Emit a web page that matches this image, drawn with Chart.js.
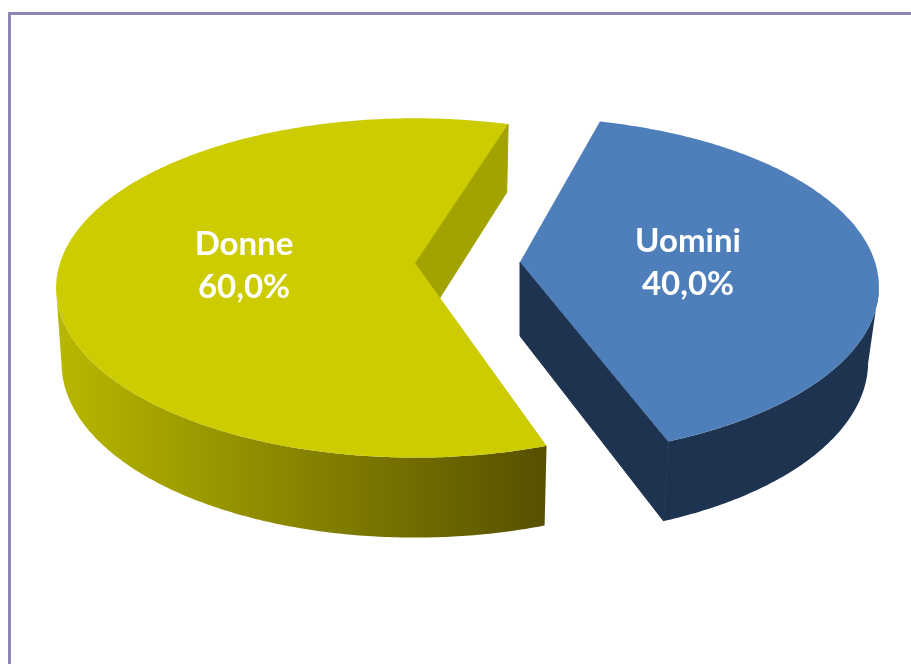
<!DOCTYPE html>
<html>
<head>
<meta charset="utf-8">
<title>Donne / Uomini</title>
<script src="https://cdn.jsdelivr.net/npm/chart.js@4"></script>
<style>
    html, body { margin: 0; padding: 0; background: #fff; overflow: hidden; }
    #frame {
        position: absolute; left: 8px; top: 12px; right: 0; bottom: 0;
        border-left: 3px solid #8c88b4; border-top: 3px solid #8c88b4;
    }
    #pie { position: absolute; left: 0; top: 0; }
</style>
</head>
<body>
<div id="frame"></div>
<canvas id="pie" width="911" height="664"></canvas>
<script>
const categories = ['Uomini', 'Donne'];
const values = [40, 60];
const startAngle = 16; // degrees, clockwise from the top

const topColors = ['#4f7fba', '#cccc00'];
const innerWallColors = ['#1e334f', '#a3a300'];
const outerWallStops = [
    ['#1e334f', '#1e334f'],
    ['#b8b800', '#565000']
];

// where each exploded slice's tip lands, and where its text goes
const tips = [{ x: 520, y: 262 }, { x: 415, y: 263 }];
const labelPositions = [{ x: 688, y: 262 }, { x: 244, y: 265 }];

// small turn per slice, the exploded slices don't share quite the same view
const sliceTurn = [-1.1, 1.4];
// the underside is further from the eye so it comes out a bit narrower
const lowScale = [0.97, 0.985];

// tilted disc seen in perspective: near side is bigger than far side
const radiusX = 355;
const radiusY = 166;
const tilt = 0.147;

function project(tip, u, v, drop, scaleX) {
    const w = 1 - tilt * v;
    const px = tip.x + scaleX * radiusX * u / w;
    const py = tip.y + radiusY * v / w;
    return { x: px, y: py + (drop ? 74 + 6 * v : 0) };
}

function rimPoints(arc, tip, turn, drop, scaleX) {
    const pts = [];
    const from = arc.startAngle + turn;
    const to = arc.endAngle + turn;
    const steps = Math.ceil((to - from) / 0.01);
    for (let i = 0; i <= steps; i++) {
        const a = from + (to - from) * i / steps;
        // past sin(a) = tilt the rim turns away from us (widest point of the disc)
        pts.push(Object.assign(project(tip, Math.cos(a), Math.sin(a), drop, scaleX), { front: Math.sin(a) >= tilt }));
    }
    return pts;
}

function fillPath(ctx, pts, color, edge) {
    ctx.beginPath();
    pts.forEach((p, i) => i ? ctx.lineTo(p.x, p.y) : ctx.moveTo(p.x, p.y));
    ctx.closePath();
    ctx.fillStyle = color;
    ctx.fill();
    if (edge) {
        // hides the hairline where the cut face meets the outer wall
        ctx.strokeStyle = color;
        ctx.lineWidth = 1;
        ctx.stroke();
    }
}

const piePerspective = {
    id: 'piePerspective',
    beforeDatasetsDraw(chart) {
        const ctx = chart.ctx;
        const arcs = chart.getDatasetMeta(0).data;

        arcs.forEach((arc, i) => {
            const tip = tips[i];
            const turn = sliceTurn[i] * Math.PI / 180;
            const rim = rimPoints(arc, tip, turn, false, 1);
            const low = rimPoints(arc, tip, turn, true, lowScale[i]);
            const tipLow = project(tip, 0, 0, true, 1);

            // only the cut face at the end of the slice can be seen, the other one is behind the top
            fillPath(ctx, [tip, rim[rim.length - 1], low[low.length - 1], tipLow], innerWallColors[i], true);

            // curved outer wall, only the part facing us
            const rimFront = rim.filter(p => p.front);
            const lowFront = low.filter(p => p.front);
            const xs = rimFront.map(p => p.x);
            const grad = ctx.createLinearGradient(Math.min(...xs), 0, Math.max(...xs), 0);
            grad.addColorStop(0, outerWallStops[i][0]);
            grad.addColorStop(1, outerWallStops[i][1]);
            fillPath(ctx, rimFront.concat(lowFront.reverse()), grad);

            // top of the slice
            fillPath(ctx, [tip].concat(rim), topColors[i]);
        });

        ctx.save();
        ctx.fillStyle = '#fff';
        ctx.font = 'bold 33px Lato';
        ctx.textAlign = 'center';
        ctx.textBaseline = 'middle';
        arcs.forEach((arc, i) => {
            const pos = labelPositions[i];
            const pct = (values[i] / values.reduce((a, b) => a + b, 0) * 100).toFixed(1).replace('.', ',') + '%';
            ctx.fillText(categories[i], pos.x, pos.y - 21);
            ctx.fillText(pct, pos.x, pos.y + 22);
        });
        ctx.restore();
        return false;
    }
};

new Chart(document.getElementById('pie').getContext('2d'), {
    type: 'pie',
    data: {
        labels: categories,
        datasets: [{ data: values, backgroundColor: topColors }]
    },
    options: {
        responsive: false,
        animation: false,
        rotation: startAngle,
        plugins: { legend: { display: false }, tooltip: { enabled: false } }
    },
    plugins: [piePerspective]
});
</script>
</body>
</html>
